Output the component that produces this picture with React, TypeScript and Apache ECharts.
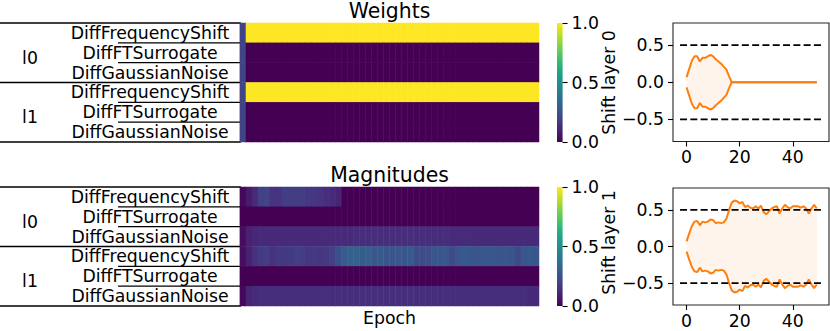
import React, { useEffect, useRef } from 'react';
import * as echarts from 'echarts';

// ---------- data ----------
const epochs = [0,1,2,3,4,5,6,7,8,9,10,11,12,13,14,15,16,17,18,19,20,21,22,23,24,25,26,27,28,29,30,31,32,33,34,35,36,37,38,39,40,41,42,43,44,45,46,47,48,49];
const rowLabels = ['DiffFrequencyShift', 'DiffFTSurrogate', 'DiffGaussianNoise', 'DiffFrequencyShift', 'DiffFTSurrogate', 'DiffGaussianNoise'];
const groupLabels = ['l0', 'l1'];

const wL0Freq = [0.2,1,1,1,1,1,1,1,1,1,1,1,1,1,1,1,1,1,1,1,1,1,1,1,1,1,1,1,1,1,1,1,1,1,1,1,1,1,1,1,1,1,1,1,1,1,1,1,1,1];
const wL0FT = [0.2,0,0,0,0,0,0,0,0,0,0,0,0,0,0,0,0,0,0,0,0,0,0,0,0,0,0,0,0,0,0,0,0,0,0,0,0,0,0,0,0,0,0,0,0,0,0,0,0,0];
const wL0Gauss = [0.2,0,0,0,0,0,0,0,0,0,0,0,0,0,0,0,0,0,0,0,0,0,0,0,0,0,0,0,0,0,0,0,0,0,0,0,0,0,0,0,0,0,0,0,0,0,0,0,0,0];
const wL1Freq = [0.2,1,1,1,1,1,1,1,1,1,1,1,1,1,1,1,1,1,1,1,1,1,1,1,1,1,1,1,1,1,1,1,1,1,1,1,1,1,1,1,1,1,1,1,1,1,1,1,1,1];
const wL1FT = [0.2,0,0,0,0,0,0,0,0,0,0,0,0,0,0,0,0,0,0,0,0,0,0,0,0,0,0,0,0,0,0,0,0,0,0,0,0,0,0,0,0,0,0,0,0,0,0,0,0,0];
const wL1Gauss = [0.2,0,0,0,0,0,0,0,0,0,0,0,0,0,0,0,0,0,0,0,0,0,0,0,0,0,0,0,0,0,0,0,0,0,0,0,0,0,0,0,0,0,0,0,0,0,0,0,0,0];

const mL0Freq = [0.02,0.07,0.12,0.19,0.2,0.15,0.15,0.18,0.18,0.18,0.18,0.16,0.16,0.15,0.13,0.12,0.1,0,0,0,0,0,0,0,0,0,0,0,0,0,0,0,0,0,0,0,0,0,0,0,0,0,0,0,0,0,0,0,0,0];
const mL0FT = [0,0,0,0,0,0,0,0,0,0,0,0,0,0,0,0,0,0,0,0,0,0,0,0,0,0,0,0,0,0,0,0,0,0,0,0,0,0,0,0,0,0,0,0,0,0,0,0,0,0];
const mL0Gauss = [0.03,0.09,0.11,0.12,0.12,0.12,0.12,0.12,0.12,0.12,0.12,0.12,0.12,0.12,0.12,0.12,0.12,0.12,0.12,0.13,0.13,0.13,0.13,0.13,0.13,0.13,0.13,0.13,0.13,0.13,0.13,0.13,0.13,0.13,0.13,0.12,0.12,0.12,0.12,0.12,0.12,0.12,0.12,0.12,0.12,0.12,0.12,0.12,0.12,0.12];
const mL1Freq = [0.035,0.09,0.14,0.17,0.18,0.145,0.17,0.165,0.17,0.185,0.18,0.16,0.165,0.16,0.165,0.19,0.24,0.29,0.31,0.31,0.29,0.3,0.27,0.28,0.26,0.26,0.27,0.26,0.28,0.23,0.22,0.24,0.26,0.27,0.27,0.22,0.26,0.28,0.27,0.26,0.27,0.27,0.27,0.26,0.27,0.26,0.22,0.26,0.28,0.27];
const mL1FT = [0,0,0,0,0,0,0,0,0,0,0,0,0,0,0,0,0,0,0,0,0,0,0,0,0,0,0,0,0,0,0,0,0,0,0,0,0,0,0,0,0,0,0,0,0,0,0,0,0,0];
const mL1Gauss = [0.02,0.1,0.12,0.13,0.13,0.13,0.13,0.13,0.13,0.13,0.13,0.13,0.13,0.13,0.13,0.13,0.13,0.13,0.13,0.13,0.13,0.13,0.13,0.13,0.13,0.13,0.13,0.13,0.13,0.13,0.13,0.13,0.13,0.13,0.13,0.13,0.13,0.13,0.13,0.13,0.13,0.13,0.13,0.13,0.13,0.13,0.13,0.13,0.12,0.12];

const shift0Upper = [0.07,0.18,0.29,0.35,0.35,0.28,0.33,0.33,0.35,0.37,0.35,0.31,0.28,0.25,0.21,0.17,0.08,0,0,0,0,0,0,0,0,0,0,0,0,0,0,0,0,0,0,0,0,0,0,0,0,0,0,0,0,0,0,0,0,0];
const shift0Lower = [-0.07,-0.18,-0.29,-0.35,-0.35,-0.28,-0.33,-0.33,-0.35,-0.37,-0.35,-0.31,-0.28,-0.25,-0.21,-0.17,-0.08,0,0,0,0,0,0,0,0,0,0,0,0,0,0,0,0,0,0,0,0,0,0,0,0,0,0,0,0,0,0,0,0,0];
const shift1Upper = [0.07,0.18,0.28,0.34,0.35,0.29,0.34,0.33,0.34,0.37,0.36,0.32,0.33,0.32,0.33,0.38,0.5,0.6,0.63,0.62,0.59,0.61,0.54,0.56,0.53,0.52,0.55,0.52,0.56,0.47,0.44,0.48,0.52,0.54,0.55,0.45,0.52,0.57,0.54,0.52,0.55,0.55,0.55,0.53,0.55,0.52,0.45,0.52,0.57,0.52];
const shift1Lower = [-0.07,-0.18,-0.28,-0.34,-0.35,-0.29,-0.34,-0.33,-0.34,-0.37,-0.36,-0.32,-0.33,-0.32,-0.33,-0.38,-0.5,-0.6,-0.63,-0.62,-0.59,-0.61,-0.54,-0.56,-0.53,-0.52,-0.55,-0.52,-0.56,-0.47,-0.44,-0.48,-0.52,-0.54,-0.55,-0.45,-0.52,-0.57,-0.54,-0.52,-0.55,-0.55,-0.55,-0.53,-0.55,-0.52,-0.45,-0.52,-0.57,-0.52];

const refLevels = [0.5, -0.5];
const dashedXSpan = [-2.45, 51.45];
const colorbarTicks = [0, 0.5, 1];
const lineXTicks = [0, 20, 40];
const lineYTicks = [-0.5, 0, 0.5];

// ---------- style ----------
const FONT = 'DejaVu Sans';
const FS = 17.3;
const VIRIDIS = ['#440154','#471365','#482475','#463480','#414487','#3b528b','#355f8d','#2f6c8e','#2a788e','#25848e','#21918c','#1e9c89','#22a884','#2fb47c','#44bf70','#5ec962','#7ad151','#9bd93c','#bddf26','#dfe318','#fde725'];
const ORANGE = '#ff7f0e';
const FILL = 'rgba(255,127,14,0.12)';

const HM_LEFT = 240, HM_W = 299, HM_H = 119;
const W_TOP = 23, M_TOP = 187;
const CB_LEFT = 557, CB_W = 5.6;
const LP_LEFT = 673, LP_W = 156;
const LABEL_CENTER_X = 150;

const weightRows = [wL0Freq, wL0FT, wL0Gauss, wL1Freq, wL1FT, wL1Gauss];
const magRows = [mL0Freq, mL0FT, mL0Gauss, mL1Freq, mL1FT, mL1Gauss];

function toCells(rows: number[][]) {
  const out: number[][] = [];
  rows.forEach((row, r) => row.forEach((v, c) => out.push([c, r, v])));
  return out;
}
const pairs = (vals: number[]) => vals.map((v, i) => [epochs[i], v]);

const textStyleBase = { fontFamily: FONT, fontSize: FS, color: '#000' };

function heatAxes(grid: number) {
  return {
    x: { type: 'category', gridIndex: grid, data: epochs, show: false },
    y: {
      type: 'category', gridIndex: grid, data: rowLabels, inverse: true,
      axisLine: { show: true, lineStyle: { color: '#000', width: 1.3 } },
      axisTick: { show: false },
      splitLine: { show: false },
      axisLabel: { ...textStyleBase, interval: 0, align: 'center', margin: HM_LEFT - LABEL_CENTER_X, padding: [0, 0, 6, 0] },
    },
  };
}
function cbAxes(grid: number) {
  return {
    x: { type: 'value', gridIndex: grid, show: false, min: 0, max: 1 },
    y: {
      type: 'value', gridIndex: grid, min: 0, max: 1, position: 'right',
      axisLine: { show: false, onZero: false },
      splitLine: { show: false },
      axisTick: { show: true, length: 5, customValues: colorbarTicks, lineStyle: { color: '#000', width: 1.1 } },
      axisLabel: { ...textStyleBase, margin: 9, customValues: colorbarTicks, formatter: (v: number) => v.toFixed(1) },
    },
  };
}
function lineAxes(grid: number) {
  return {
    x: {
      type: 'value', gridIndex: grid, min: -5.1, max: 53.6, position: 'bottom',
      axisLine: { show: false, onZero: false }, splitLine: { show: false },
      axisTick: { show: true, length: 5, customValues: lineXTicks, lineStyle: { color: '#000', width: 1.1 } },
      axisLabel: { ...textStyleBase, margin: 7, customValues: lineXTicks, formatter: (v: number) => String(v) },
    },
    y: {
      type: 'value', gridIndex: grid, min: -0.8, max: 0.8, position: 'left',
      axisLine: { show: false, onZero: false }, splitLine: { show: false },
      axisTick: { show: true, length: 5, customValues: lineYTicks, lineStyle: { color: '#000', width: 1.1 } },
      axisLabel: {
        ...textStyleBase, margin: 9, customValues: lineYTicks,
        formatter: (v: number) => (v < 0 ? '\u2212' : '') + Math.abs(v).toFixed(1),
      },
    },
  };
}

function lineSeries(grid: number, upper: number[], lower: number[]) {
  const base = {
    type: 'line', xAxisIndex: grid, yAxisIndex: grid, showSymbol: false, symbol: 'none',
    lineStyle: { color: ORANGE, width: 2 }, areaStyle: { color: FILL, origin: 0 }, z: 2,
  };
  const dashed = refLevels.map((lv) => ({
    type: 'line', xAxisIndex: grid, yAxisIndex: grid, showSymbol: false, symbol: 'none',
    data: dashedXSpan.map((x) => [x, lv]),
    lineStyle: { color: '#000', width: 1.8, type: [7, 3.3] }, z: 3,
  }));
  return [
    { ...base, data: pairs(upper) },
    { ...base, data: pairs(lower) },
    ...dashed,
  ];
}

function tableLines(top: number) {
  const rh = HM_H / 6;
  const els: any[] = [];
  for (let i = 0; i <= 6; i++) {
    const y = top + rh * i;
    const full = i % 3 === 0;
    els.push({
      type: 'line', silent: true,
      shape: { x1: full ? 0 : 118, y1: y, x2: HM_LEFT, y2: y },
      style: { stroke: '#000', lineWidth: 1.3 },
    });
  }
  return els;
}

function groupTexts(top: number) {
  const rh = HM_H / 6;
  return groupLabels.map((g, i) => ({
    type: 'text', x: 30, y: top + rh * (1.5 + 3 * i) + 5,
    style: { text: g, fontFamily: FONT, fontSize: FS, fill: '#000', align: 'center', verticalAlign: 'middle' },
  }));
}

function colorbarRect(top: number) {
  return {
    type: 'rect', silent: true,
    shape: { x: CB_LEFT, y: top, width: CB_W, height: HM_H },
    style: {
      fill: new echarts.graphic.LinearGradient(0, 1, 0, 0, VIRIDIS.map((c, i) => ({ offset: i / (VIRIDIS.length - 1), color: c }))),
    },
  };
}

function label(text: string, x: number, y: number, size: number, rotate = 0) {
  return {
    type: 'text', x, y, rotation: rotate,
    style: { text, fontFamily: FONT, fontSize: size, fill: '#000', align: 'center', verticalAlign: 'middle' },
  };
}

function buildOption() {
  const hw = heatAxes(0), cw = cbAxes(1), lw = lineAxes(2);
  const hm = heatAxes(3), cm = cbAxes(4), lm = lineAxes(5);
  return {
    animation: false,
    backgroundColor: '#fff',
    grid: [
      { left: HM_LEFT, top: W_TOP, width: HM_W, height: HM_H },
      { left: CB_LEFT, top: W_TOP, width: CB_W, height: HM_H },
      { left: LP_LEFT, top: W_TOP, width: LP_W, height: 118.5, show: true, borderColor: '#262626', borderWidth: 1.1, backgroundColor: 'transparent' },
      { left: HM_LEFT, top: M_TOP, width: HM_W, height: HM_H },
      { left: CB_LEFT, top: M_TOP, width: CB_W, height: HM_H },
      { left: LP_LEFT, top: 188, width: LP_W, height: 117, show: true, borderColor: '#262626', borderWidth: 1.1, backgroundColor: 'transparent' },
    ],
    xAxis: [hw.x, cw.x, lw.x, hm.x, cm.x, lm.x],
    yAxis: [hw.y, cw.y, lw.y, hm.y, cm.y, lm.y],
    visualMap: {
      type: 'continuous', min: 0, max: 1, show: false, seriesIndex: [0, 1],
      inRange: { color: VIRIDIS },
    },
    series: [
      { type: 'heatmap', xAxisIndex: 0, yAxisIndex: 0, data: toCells(weightRows), emphasis: { disabled: true } },
      { type: 'heatmap', xAxisIndex: 3, yAxisIndex: 3, data: toCells(magRows), emphasis: { disabled: true } },
      ...lineSeries(2, shift0Upper, shift0Lower),
      ...lineSeries(5, shift1Upper, shift1Lower),
    ],
    graphic: [
      ...tableLines(W_TOP),
      ...tableLines(M_TOP),
      ...groupTexts(W_TOP),
      ...groupTexts(M_TOP),
      colorbarRect(W_TOP),
      colorbarRect(M_TOP),
      label('Weights', HM_LEFT + HM_W / 2, 10.5, 20.4),
      label('Magnitudes', HM_LEFT + HM_W / 2, 175, 20.4),
      label('Epoch', HM_LEFT + HM_W / 2, 318, FS),
      label('Shift layer 0', 609, 82.5, FS, Math.PI / 2),
      label('Shift layer 1', 609, 242.5, FS, Math.PI / 2),
    ],
  };
}

export default function App() {
  const ref = useRef<HTMLDivElement>(null);
  useEffect(() => {
    document.body.style.margin = '0';
    const chart = echarts.init(ref.current as HTMLDivElement, null, { renderer: 'svg' });
    chart.setOption(buildOption() as any);
    return () => chart.dispose();
  }, []);
  return <div ref={ref} style={{ width: 830, height: 331 }} />;
}
